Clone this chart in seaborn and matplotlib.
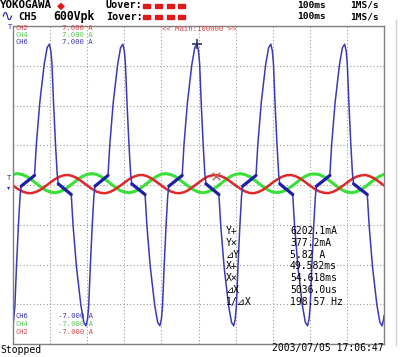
import seaborn as sns
import matplotlib.pyplot as plt
from matplotlib.patches import Rectangle
from matplotlib.lines import Line2D
import numpy as np
import pandas as pd

# CH6 current (A), time in ms (10 ms/div, 100 ms record)
blue_ms = [0.0, 0.2, 0.5, 0.95, 1.45, 1.9, 2.2,
           5.8, 6.3, 7.2, 8.4, 9.2, 9.8, 10.2, 10.5, 10.95, 11.45, 11.9, 12.2,
           15.7, 16.2, 17.1, 18.3, 19.1, 19.7, 20.1, 20.4, 20.85, 21.35, 21.8, 22.1,
           25.6, 26.1, 27.0, 28.2, 29.0, 29.6, 30.0, 30.3, 30.75, 31.25, 31.7, 32.0,
           35.6, 36.1, 37.0, 38.2, 39.0, 39.6, 40.0, 40.3, 40.75, 41.25, 41.7, 42.0,
           45.6, 46.1, 47.0, 48.2, 49.0, 49.6, 50.0, 50.3, 50.75, 51.25, 51.7, 52.0,
           55.5, 56.0, 56.9, 58.1, 58.9, 59.5, 59.9, 60.2, 60.65, 61.15, 61.6, 61.9,
           65.5, 66.0, 66.9, 68.1, 68.9, 69.5, 69.9, 70.2, 70.65, 71.15, 71.6, 71.9,
           75.4, 75.9, 76.8, 78.0, 78.8, 79.4, 79.8, 80.1, 80.55, 81.05, 81.5, 81.8,
           85.4, 85.9, 86.8, 88.0, 88.8, 89.4, 89.8, 90.1, 90.55, 91.05, 91.5, 91.8,
           95.5, 96.0, 96.9, 98.1, 98.9, 99.5, 99.9, 100.0]
blue_amp = [-6.15, -5.9, -5.35, -3.55, -1.8, -0.5, -0.05,
            0.42, 1.8, 3.6, 5.3, 6.05, 6.2, 5.9, 5.35, 3.55, 1.8, 0.5, 0.05,
            -0.42, -1.8, -3.6, -5.3, -6.05, -6.2, -5.9, -5.35, -3.55, -1.8, -0.5, -0.05,
            0.42, 1.8, 3.6, 5.3, 6.05, 6.2, 5.9, 5.35, 3.55, 1.8, 0.5, 0.05,
            -0.42, -1.8, -3.6, -5.3, -6.05, -6.2, -5.9, -5.35, -3.55, -1.8, -0.5, -0.05,
            0.42, 1.8, 3.6, 5.3, 6.05, 6.2, 5.9, 5.35, 3.55, 1.8, 0.5, 0.05,
            -0.42, -1.8, -3.6, -5.3, -6.05, -6.2, -5.9, -5.35, -3.55, -1.8, -0.5, -0.05,
            0.42, 1.8, 3.6, 5.3, 6.05, 6.2, 5.9, 5.35, 3.55, 1.8, 0.5, 0.05,
            -0.42, -1.8, -3.6, -5.3, -6.05, -6.2, -5.9, -5.35, -3.55, -1.8, -0.5, -0.05,
            0.42, 1.8, 3.6, 5.3, 6.05, 6.2, 5.9, 5.35, 3.55, 1.8, 0.5, 0.05,
            -0.42, -1.8, -3.6, -5.3, -6.05, -6.2, -5.9, -5.75]

# CH2 / CH4, read every 1.25 ms
sample_ms = np.arange(0, 100.01, 1.25)
red_amp = [-0.02, -0.17, -0.28, -0.35, -0.36, -0.30, -0.20, -0.05, 0.10, 0.25, 0.36, 0.43, 0.44, 0.38, 0.28, 0.13,
           -0.02, -0.17, -0.29, -0.35, -0.36, -0.30, -0.19, -0.05, 0.10, 0.25, 0.36, 0.43, 0.44, 0.38, 0.27, 0.13,
           -0.02, -0.17, -0.28, -0.35, -0.36, -0.31, -0.20, -0.05, 0.10, 0.25, 0.37, 0.43, 0.44, 0.38, 0.28, 0.13,
           -0.02, -0.16, -0.28, -0.35, -0.36, -0.30, -0.20, -0.05, 0.11, 0.25, 0.36, 0.43, 0.44, 0.38, 0.28, 0.13,
           -0.02, -0.17, -0.28, -0.34, -0.36, -0.30, -0.20, -0.05, 0.10, 0.25, 0.36, 0.42, 0.44, 0.38, 0.28, 0.13,
           -0.02]
green_amp = [0.47, 0.50, 0.46, 0.37, 0.23, 0.07, -0.09, -0.22, -0.31, -0.34, -0.30, -0.21, -0.07, 0.09, 0.25, 0.38,
             0.47, 0.50, 0.47, 0.37, 0.23, 0.07, -0.09, -0.23, -0.31, -0.34, -0.30, -0.21, -0.07, 0.09, 0.25, 0.38,
             0.48, 0.50, 0.46, 0.37, 0.22, 0.07, -0.09, -0.22, -0.31, -0.34, -0.30, -0.21, -0.07, 0.09, 0.25, 0.39,
             0.47, 0.50, 0.46, 0.37, 0.23, 0.07, -0.09, -0.22, -0.31, -0.33, -0.30, -0.21, -0.07, 0.09, 0.25, 0.38,
             0.47, 0.49, 0.46, 0.37, 0.23, 0.07, -0.09, -0.22, -0.31, -0.34, -0.30, -0.21, -0.07, 0.09, 0.25, 0.38,
             0.47]

cursor_ms = [49.582, 54.618]
cursor_amp = [6.2021, 0.3772]

cursor_labels = ['Y+', 'Y×', '⊿Y', 'X+', 'X×', '⊿X', '1/⊿X']
cursor_values = ['6202.1mA', '377.2mA', '5.82 A', '49.582ms', '54.618ms', '5036.0us', '198.57 Hz']

RED = '#e02828'
GREEN = '#38e038'
BLUE = '#3a3ab8'
NAVY = '#2a2a9a'
TXT_RED = '#d04848'
TXT_GREEN = '#58c858'
TXT_BLUE = '#3838b0'

sns.set_style('white')
plt.rcParams['font.family'] = ['DejaVu Sans Mono', 'DejaVu Sans', 'Noto Sans CJK JP']

W, H = 400, 357
fig = plt.figure(figsize=(W / 100, H / 100), dpi=100)
ax = fig.add_axes([13 / W, 13 / H, 371 / W, 318 / H])

df_red = pd.DataFrame({'ms': sample_ms, 'A': red_amp})
df_green = pd.DataFrame({'ms': sample_ms, 'A': green_amp})
df_blue = pd.DataFrame({'ms': blue_ms, 'A': blue_amp})

sns.lineplot(data=df_green, x='ms', y='A', ax=ax, color=GREEN, lw=2.2, estimator=None, sort=False)
sns.lineplot(data=df_red, x='ms', y='A', ax=ax, color=RED, lw=1.8, estimator=None, sort=False)
sns.lineplot(data=df_blue, x='ms', y='A', ax=ax, color=BLUE, lw=1.1, estimator=None, sort=False)

# the flat steps near zero look heavier on screen
ledge = np.ma.masked_where(np.abs(blue_amp) > 0.45, blue_amp)
ax.plot(blue_ms, ledge, color='#1e1ea8', lw=2.3)

ax.scatter(cursor_ms[:1], cursor_amp[:1], marker='+', s=45, color='#30306a', lw=1.2, zorder=5)
ax.scatter(cursor_ms[1:], cursor_amp[1:], marker='x', s=30, color='#c06060', lw=1.0, zorder=5)

ax.set_xlim(0, 100)
ax.set_ylim(-7, 7)
ax.set_xticks(np.arange(0, 101, 10))
ax.set_yticks(np.linspace(-7, 7, 9))
ax.grid(True, color='#9a9a9a', linestyle=(0, (1, 2)), lw=0.8)
ax.tick_params(length=0, labelleft=False, labelbottom=False)
ax.set_xlabel('')
ax.set_ylabel('')
for sp in ax.spines.values():
    sp.set_color('#808080')
    sp.set_linewidth(1.0)

# faint screen edge on the right
fig.add_artist(Line2D([396 / W, 396 / W], [1 - 345 / H, 1 - 20 / H], color='#cfcfcf', lw=1.0))


def put(x, y, s, size, color='black', **kw):
    fig.text(x / W, 1 - y / H, s, fontsize=size, color=color, va='center', ha='left', **kw)


# header
put(0, 5.5, 'YOKOGAWA', 7.8, weight='bold')
put(57, 5.5, '◆', 7.5, color='#e01818', family='DejaVu Sans')
put(0, 16.5, '∿', 11, color='#2020c0', family='DejaVu Sans')
put(18, 16.5, 'CH5', 7.5, weight='bold')
put(53, 16.5, '600Vpk', 8.3, weight='bold')
put(106, 5.5, 'Uover:', 7.3, weight='bold')
put(106, 16.5, 'Iover:', 7.3, weight='bold')
for row in [5.5, 16.5]:
    for x0 in [143, 155, 167, 178]:
        fig.add_artist(Rectangle((x0 / W, 1 - (row + 2) / H), 7 / W, 4 / H,
                                 transform=fig.transFigure, color='#e01818'))
    put(297, row, '100ms', 6.8, weight='bold')
    put(350, row, '1MS/s', 6.8, weight='bold')

# channel scales
put(15, 28, 'CH2', 5.0, TXT_RED)
put(15, 35, 'CH4', 5.0, TXT_GREEN)
put(15, 42.5, 'CH6', 5.0, TXT_BLUE)
put(62, 28, '7.000 A', 5.2, TXT_RED)
put(62, 35, '7.000 A', 5.2, TXT_GREEN)
put(62, 42.5, '7.000 A', 5.2, TXT_BLUE)
put(162, 29, '<< Main:100000 >>', 5.2, TXT_RED)

put(15, 316.5, 'CH6', 5.0, TXT_BLUE)
put(15, 324.5, 'CH4', 5.0, TXT_GREEN)
put(15, 332.5, 'CH2', 5.0, TXT_RED)
put(58, 316.5, '-7.000 A', 5.2, TXT_BLUE)
put(58, 324.5, '-7.000 A', 5.2, TXT_GREEN)
put(58, 332.5, '-7.000 A', 5.2, TXT_RED)

# trigger / ground markers
put(8, 27, 'T', 5.0, NAVY)
put(7, 178.5, 'T', 5.0, NAVY)
put(7, 187.5, '▾', 4.5, NAVY, family='DejaVu Sans')

# cursor readout
for i, (lab, val) in enumerate(zip(cursor_labels, cursor_values)):
    put(226, 231 + 11.8 * i, lab, 7)
    put(290, 231 + 11.8 * i, val, 7)

put(0, 350, 'Stopped', 7)
put(272, 348.5, '2003/07/05 17:06:47', 7)

plt.savefig('out.png', dpi=100)
